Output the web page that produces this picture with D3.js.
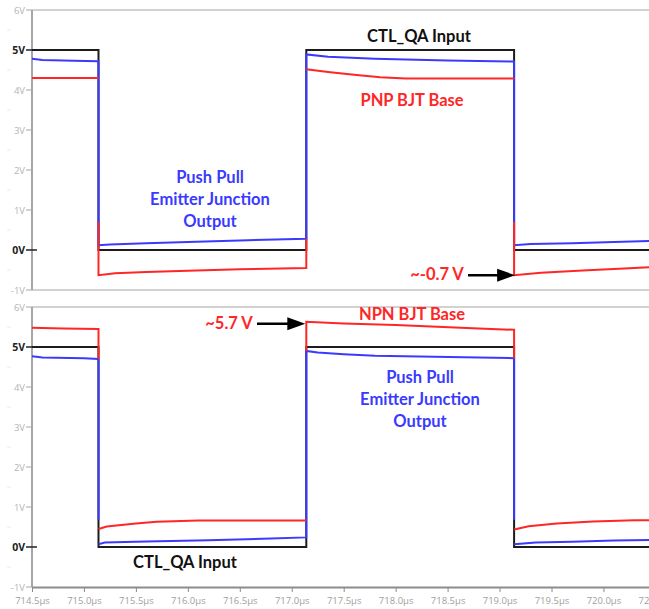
<!DOCTYPE html>
<html>
<head>
<meta charset="utf-8">
<script src="https://cdn.jsdelivr.net/npm/d3@7"></script>
<style>
  html, body { margin: 0; padding: 0; background: #fff; }
  svg { display: block; }
</style>
</head>
<body>
<svg id="chart" width="649" height="609"></svg>
<script>
// Switching edges of the CTL_QA control square wave (µs)
const edges = [715.14, 717.14, 719.14];

// Time axis ticks (µs)
const timeTicks = [714.5, 715.0, 715.5, 716.0, 716.5, 717.0, 717.5, 718.0, 718.5, 719.0, 719.5, 720.0, 720.5];
// Voltage axis ticks (V)
const voltTicks = [-1, 0, 1, 2, 3, 4, 5, 6];
const voltMinor = [-0.5, 0.5, 1.5, 2.5, 3.5, 4.5, 5.5];

// Upper plot: CTL_QA input, PNP base, push-pull emitter output  [time µs, volts], null = break
const ctlTop = [[714.5, 5], [715.14, 5], [715.14, 0], [717.14, 0], [717.14, 5], [719.14, 5], [719.14, 0], [720.5, 0]];
const outTop = [
  [714.5, 4.78], [714.6, 4.75], [714.9, 4.73], [715.14, 4.72], [715.14, 0.12],
  [715.25, 0.14], [715.6, 0.17], [716.0, 0.2], [716.5, 0.24], [717.14, 0.28],
  [717.14, 4.89], [717.35, 4.83], [717.8, 4.78], [718.5, 4.74], [719.14, 4.71],
  [719.14, 0.12], [719.3, 0.15], [719.7, 0.17], [720.1, 0.2], [720.5, 0.23]
];
const pnpBase = [
  [714.5, 4.3], [715.14, 4.3], null,
  [715.14, 0.7], [715.14, -0.63], [715.3, -0.58], [715.6, -0.55], [716.0, -0.52], [716.5, -0.48], [717.14, -0.45], [717.14, 0.28], null,
  [717.14, 4.52], [717.35, 4.45], [717.6, 4.38], [717.85, 4.32], [718.1, 4.29], [719.14, 4.29], null,
  [719.14, 0.7], [719.14, -0.63], [719.4, -0.57], [719.8, -0.51], [720.2, -0.46], [720.5, -0.42]
];

// Lower plot: CTL_QA input, NPN base, push-pull emitter output
const ctlBottom = [[714.5, 5], [715.14, 5], [715.14, 0.68], [715.14, 0], [717.14, 0], [717.14, 5], [719.14, 5], [719.14, 0.68], [719.14, 0], [720.5, 0]];
const outBottom = [
  [714.5, 4.77], [714.6, 4.74], [715.0, 4.72], [715.14, 4.7], [715.14, 0.68], null,
  [715.14, 0.07], [715.2, 0.11], [715.6, 0.14], [716.2, 0.17], [716.8, 0.21], [717.14, 0.24],
  [717.14, 4.9], [717.25, 4.86], [717.5, 4.82], [717.8, 4.78], [718.8, 4.74], [719.14, 4.72], [719.14, 0.68], null,
  [719.14, 0.07], [719.35, 0.11], [719.7, 0.13], [720.1, 0.16], [720.5, 0.18]
];
const npnBase = [
  [714.5, 5.48], [714.8, 5.46], [715.14, 5.45], [715.14, 4.7], null,
  [715.14, 0.45], [715.22, 0.51], [715.5, 0.59], [715.7, 0.63], [716.1, 0.66], [717.14, 0.66], null,
  [717.14, 4.9], [717.14, 5.63], [717.5, 5.59], [718.0, 5.55], [718.8, 5.46], [719.14, 5.43], [719.14, 4.72], null,
  [719.14, 0.44], [719.28, 0.52], [719.55, 0.59], [719.9, 0.64], [720.3, 0.67], [720.5, 0.67]
];

const BLACK = "#1c1c1c", BLUE = "#3a3aff", RED = "#ff2626";
const FONT = "Lato, 'Open Sans', sans-serif";

const svg = d3.select("#chart");
svg.append("rect").attr("width", 649).attr("height", 609).attr("fill", "#fff");

const x = d3.scaleLinear().domain([714.5, 720.5]).range([32, 655.4]);
const panels = [
  { y: d3.scaleLinear().domain([-1, 6]).range([290, 10]), series: [[ctlTop, BLACK], [outTop, BLUE], [pnpBase, RED]], bottomAxis: false },
  { y: d3.scaleLinear().domain([-1, 6]).range([587, 307]), series: [[ctlBottom, BLACK], [outBottom, BLUE], [npnBase, RED]], bottomAxis: true }
];

panels.forEach(p => {
  const g = svg.append("g");
  const y = p.y;
  const [yBot, yTop] = y.range();

  // frame lines
  g.append("line").attr("x1", 32).attr("x2", 649).attr("y1", yTop).attr("y2", yTop)
    .attr("stroke", "#d2d2d2").attr("stroke-width", 2);
  if (!p.bottomAxis) {
    g.append("line").attr("x1", 32).attr("x2", 649).attr("y1", yBot).attr("y2", yBot)
      .attr("stroke", "#d2d2d2").attr("stroke-width", 2);
  }

  // faint minor marks
  g.selectAll(".minor").data(voltMinor).join("line")
    .attr("x1", 7).attr("x2", 11).attr("y1", d => y(d)).attr("y2", d => y(d))
    .attr("stroke", "#ececec").attr("stroke-width", 1);

  // voltage axis
  g.append("line").attr("x1", 32).attr("x2", 32).attr("y1", yTop).attr("y2", yBot)
    .attr("stroke", "#a6a6a6").attr("stroke-width", 2);
  voltTicks.forEach(v => {
    const strong = (v === 0 || v === 5);
    g.append("line")
      .attr("x1", 26).attr("x2", v === 0 ? 37 : 32)
      .attr("y1", y(v)).attr("y2", y(v))
      .attr("stroke", strong ? "#222" : "#a6a6a6").attr("stroke-width", strong ? 1.5 : 1);
    g.append("text")
      .attr("x", 25).attr("y", y(v) + 3.5)
      .attr("text-anchor", "end")
      .attr("font-family", "'Open Sans', sans-serif")
      .attr("font-size", strong ? 10.5 : 9.5)
      .attr("font-weight", strong ? 700 : 400)
      .attr("fill", strong ? "#222" : "#b4b4b4")
      .text(v + "V");
  });

  if (p.bottomAxis) {
    const ax = g.append("g").attr("transform", `translate(0,${yBot})`)
      .call(d3.axisBottom(x).tickValues(timeTicks).tickSize(5).tickSizeOuter(0)
        .tickFormat(d => d.toFixed(1) + "µs"));
    ax.select(".domain").attr("stroke", "#8c8c8c").attr("stroke-width", 2);
    ax.selectAll(".tick line").attr("stroke", "#8c8c8c");
    ax.selectAll(".tick text")
      .attr("font-family", "'Open Sans', sans-serif").attr("font-size", 9.5)
      .attr("fill", "#a0a0a0").attr("dy", "0.9em");
  }

  // signal traces
  const line = d3.line().defined(d => d !== null).x(d => x(d[0])).y(d => y(d[1]));
  p.series.forEach(([data, color]) => {
    g.append("path").datum(data).attr("d", line)
      .attr("fill", "none").attr("stroke", color).attr("stroke-width", 2)
      .attr("stroke-linejoin", "miter");
  });
});

// Text annotations
const yTopPanel = panels[0].y, yBottomPanel = panels[1].y;
const LABEL_SIZE = 16.5;
function label(txt, cx, cy, color) {
  svg.append("text").attr("x", cx).attr("y", cy + LABEL_SIZE * 0.36)
    .attr("text-anchor", "middle").attr("font-family", FONT)
    .attr("font-weight", 700).attr("font-size", LABEL_SIZE).attr("fill", color).text(txt);
}
function arrow(x1, x2, yy) {
  svg.append("line").attr("x1", x1).attr("x2", x2 - 14).attr("y1", yy).attr("y2", yy)
    .attr("stroke", "#000").attr("stroke-width", 2.5);
  svg.append("path")
    .attr("d", `M${x2},${yy} L${x2 - 18},${yy - 6.5} L${x2 - 18},${yy + 6.5} Z`)
    .attr("fill", "#000");
}

label("CTL_QA Input", 419, 36, "#111");
label("PNP BJT Base", 412, 100, RED);
["Push Pull", "Emitter Junction", "Output"].forEach((t, i) => label(t, 210, 177 + i * 22, BLUE));

label("~-0.7 V", 437, 274, RED);
arrow(468, x(edges[2]) + 1, yTopPanel(-0.63));

label("~5.7 V", 229, 323, RED);
arrow(257, x(edges[1]) - 1, yBottomPanel(5.58));

label("NPN BJT Base", 412, 314, RED);
["Push Pull", "Emitter Junction", "Output"].forEach((t, i) => label(t, 420, 377 + i * 22, BLUE));
label("CTL_QA Input", 185, 562, "#111");
</script>
</body>
</html>
